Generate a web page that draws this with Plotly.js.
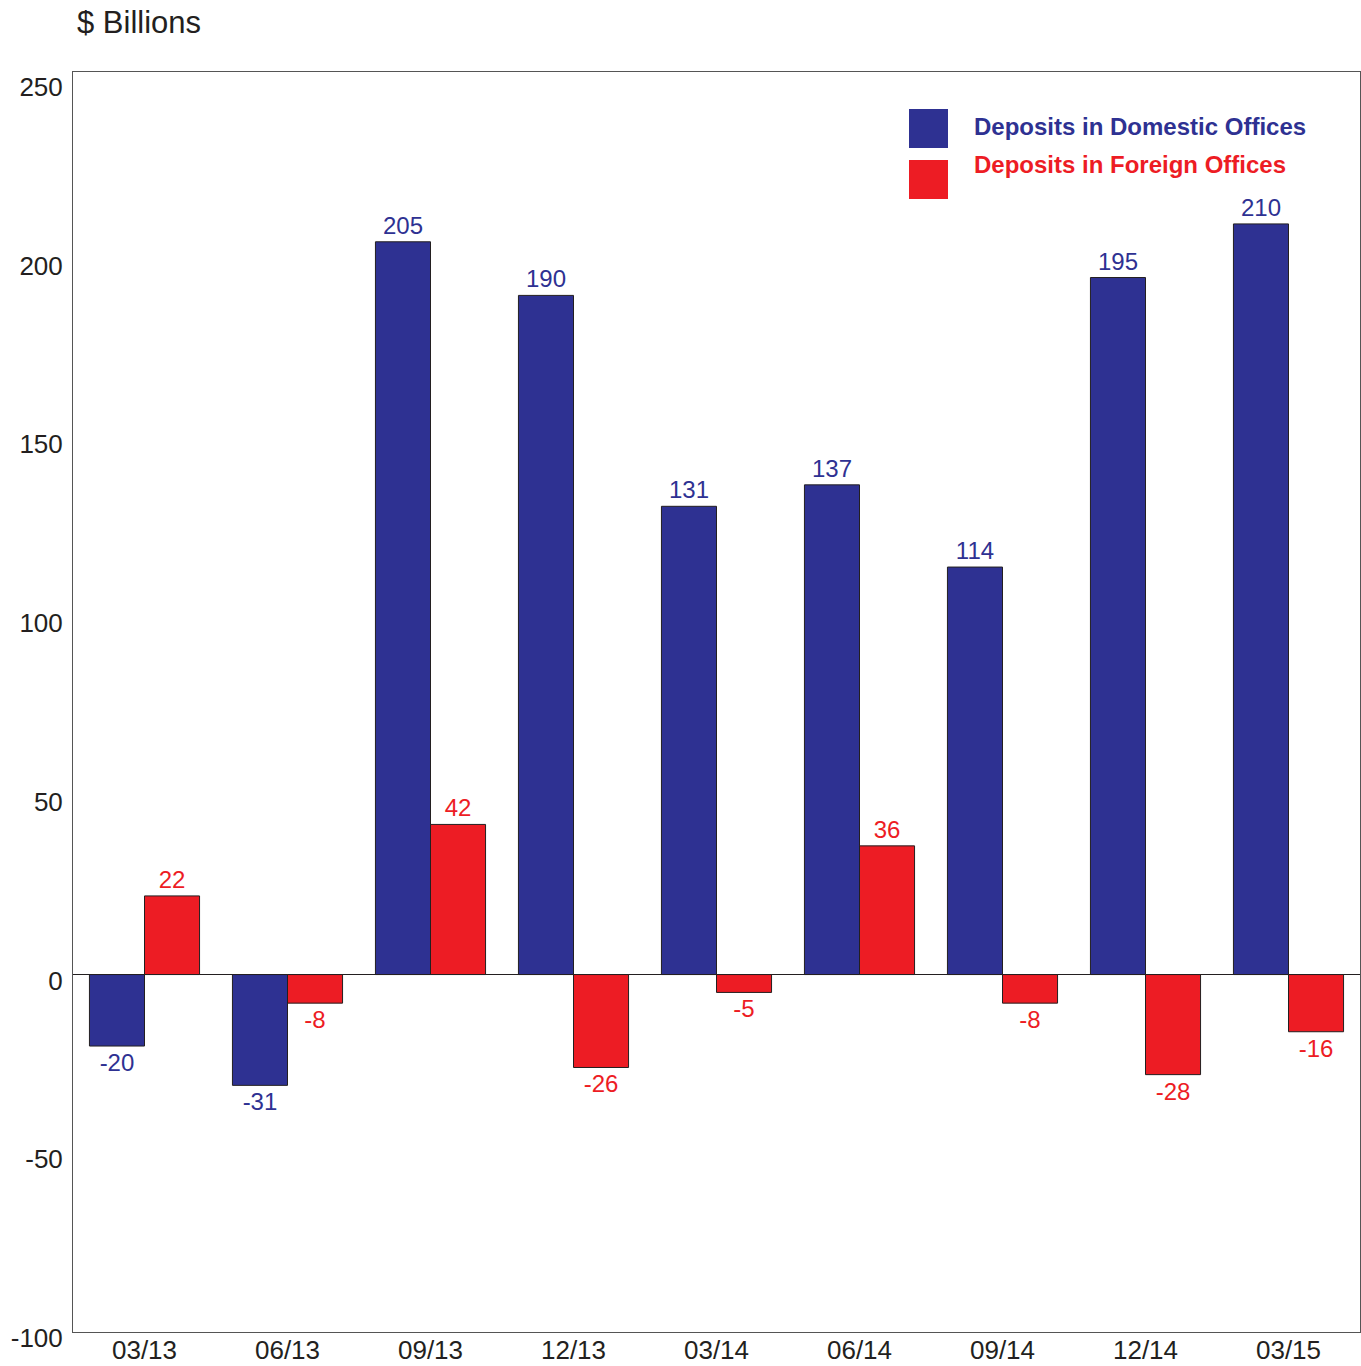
<!DOCTYPE html>
<html>
<head>
<meta charset="utf-8">
<script src="https://cdn.plot.ly/plotly-3.0.1.min.js"></script>
<style>html,body{margin:0;padding:0;background:#fff;}#chart{width:1361px;height:1366px;}</style>
</head>
<body>
<div id="chart"></div>
<script>
const categories = ["03/13","06/13","09/13","12/13","03/14","06/14","09/14","12/14","03/15"];
const domestic = [-20,-31,205,190,131,137,114,195,210];
const foreign = [22,-8,42,-26,-5,36,-8,-28,-16];
const seriesNames = ["Deposits in Domestic Offices","Deposits in Foreign Offices"];
const yTicks = [-100,-50,0,50,100,150,200,250];
const yAxisLabel = "$ Billions";

const BLUE = "#2E3192", RED = "#ED1C24", INK = "#231F20";
const FONT = "Liberation Sans, Arial, Helvetica, sans-serif";

const W = 1361, H = 1366;
const M = {l:73, r:1, t:72, b:34};
const pw = W - M.l - M.r, ph = H - M.t - M.b;
const px = x => (x - M.l) / pw;
const py = y => (H - M.b - y) / ph;

function barTrace(name, vals, color){
  return {
    type:"bar", name:name, x:categories, y:vals,
    marker:{color:color, line:{color:INK, width:1}},
    text:vals.map(String), textposition:"outside",
    textfont:{family:FONT, size:24, color:color},
    cliponaxis:false, hoverinfo:"x+y+name"
  };
}

const data = [barTrace(seriesNames[0], domestic, BLUE), barTrace(seriesNames[1], foreign, RED)];

const legendItems = [
  {name:seriesNames[0], color:BLUE, top:109},
  {name:seriesNames[1], color:RED, top:160}
];
const shapes = [];
const annotations = [{
  text:yAxisLabel, xref:"paper", yref:"paper", x:px(75), y:py(23), xanchor:"left", yanchor:"middle",
  showarrow:false, font:{family:FONT, size:31, color:INK}
}];
legendItems.forEach((it, i) => {
  shapes.push({type:"rect", xref:"paper", yref:"paper", x0:px(909), x1:px(948), y0:py(it.top+39), y1:py(it.top),
    fillcolor:it.color, line:{width:0}});
  annotations.push({text:"<b>"+it.name+"</b>", xref:"paper", yref:"paper", x:px(972), y:py(i===0?127:165),
    xanchor:"left", yanchor:"middle", showarrow:false, font:{family:FONT, size:24, color:it.color}});
});

const layout = {
  width:W, height:H, margin:M, paper_bgcolor:"#fff", plot_bgcolor:"#fff",
  showlegend:false, barmode:"group", bargap:0.23, bargroupgap:0,
  font:{family:FONT, color:INK},
  xaxis:{type:"category", showgrid:false, showline:true, mirror:true, linecolor:"#555", linewidth:1,
    ticks:"", ticklabelstandoff:-5, tickfont:{family:FONT, size:26, color:INK}, zeroline:false, fixedrange:true},
  yaxis:{range:[-100, 252.5], tickvals:yTicks, ticktext:yTicks.map(String), showgrid:false,
    showline:true, mirror:true, linecolor:"#555", linewidth:1, ticks:"",
    ticklabelstandoff:4, ticklabelshift:6,
    zeroline:true, zerolinecolor:INK, zerolinewidth:1,
    tickfont:{family:FONT, size:26, color:INK}, fixedrange:true},
  shapes:shapes, annotations:annotations
};

Plotly.newPlot("chart", data, layout, {displayModeBar:false, staticPlot:true});
</script>
</body>
</html>
